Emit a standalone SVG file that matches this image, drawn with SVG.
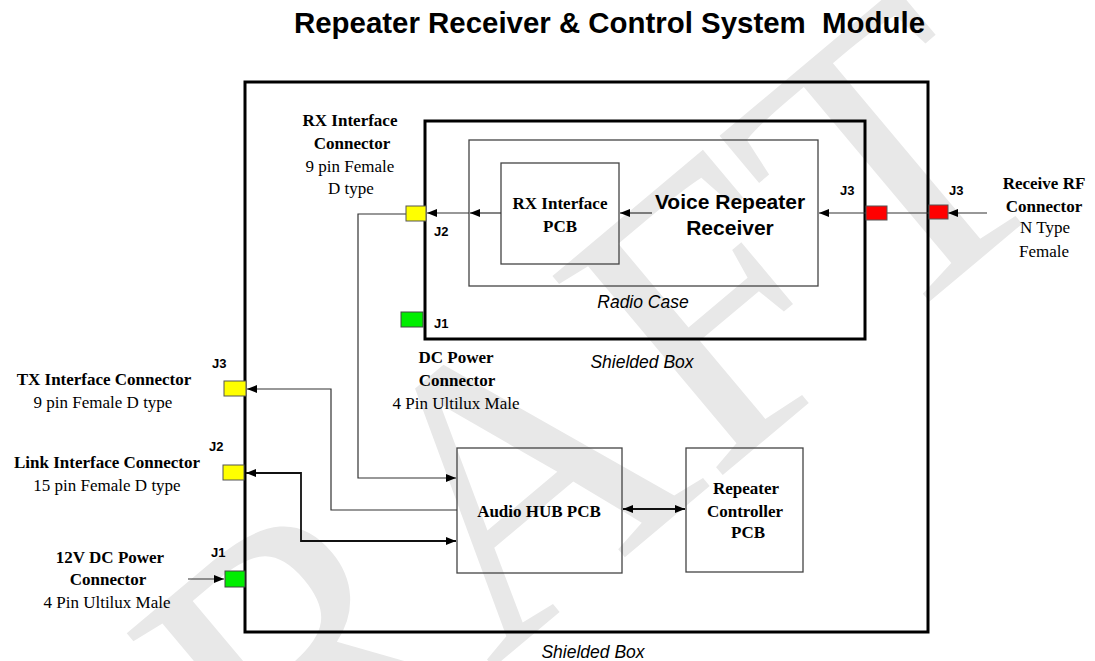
<svg xmlns="http://www.w3.org/2000/svg" width="1095" height="661" viewBox="0 0 1095 661">
<defs>
<marker id="ah" viewBox="0 0 10 8" refX="10" refY="4" markerWidth="10" markerHeight="8" markerUnits="userSpaceOnUse" orient="auto-start-reverse">
<path d="M0,0 L10,4 L0,8 z" fill="#000"/>
</marker>
<style>
.box{fill:none;stroke:#000;stroke-width:3}
.thin{fill:none;stroke:#444;stroke-width:1.3}
.cn{fill:none;stroke:#333;stroke-width:1.2}
.cnb{fill:none;stroke:#111;stroke-width:1.8}
.y{fill:#ffff00;stroke:#555;stroke-width:1}
.g{fill:#00ee00;stroke:#444;stroke-width:1}
.r{fill:#ff0000;stroke:#555;stroke-width:1}
.sb{font-family:"Liberation Serif",serif;font-weight:bold;font-size:17px;fill:#000;text-anchor:middle}
.sr{font-family:"Liberation Serif",serif;font-size:17px;fill:#000;text-anchor:middle}
.j{font-family:"Liberation Sans",Arial,sans-serif;font-weight:bold;font-size:13px;fill:#000}
.it{font-family:"Liberation Sans",Arial,sans-serif;font-style:italic;font-size:17.5px;fill:#000;text-anchor:middle}
.vb{font-family:"Liberation Sans",Arial,sans-serif;font-weight:bold;font-size:21px;fill:#000;text-anchor:middle}
.wm{font-family:"Liberation Serif",serif;font-size:400px;fill:#e8e8e8}
</style>
</defs>
<rect width="1095" height="661" fill="#fff"/>
<text class="wm" x="65" y="1027" transform="rotate(-40 65 1027)">DRAFT</text>
<text x="294" y="33" font-family="Liberation Sans, Arial, sans-serif" font-weight="bold" font-size="29" textLength="631" lengthAdjust="spacingAndGlyphs" xml:space="preserve">Repeater Receiver &amp; Control System  Module</text>

<g id="shielded-box">
<rect class="box" x="245" y="82" width="683" height="550"/>
<text class="it" x="593" y="658">Shielded Box</text>
<text class="it" x="642" y="368">Shielded Box</text>
</g>
<g id="radio-case">
<rect class="box" x="425" y="121" width="440" height="218"/>
<text class="it" x="643" y="308">Radio Case</text>
</g>
<g id="voice-repeater-receiver">
<rect class="thin" x="469" y="140" width="349" height="146"/>
<text class="vb" x="730" y="209">Voice Repeater</text>
<text class="vb" x="730" y="235">Receiver</text>
</g>
<g id="rx-interface-pcb">
<rect class="thin" x="501" y="163" width="118" height="101"/>
<text class="sb" x="560" y="209">RX Interface</text>
<text class="sb" x="560" y="232">PCB</text>
</g>
<g id="audio-hub-pcb">
<rect class="thin" x="457" y="448" width="165" height="125"/>
<text class="sb" x="539" y="517">Audio HUB PCB</text>
</g>
<g id="repeater-controller-pcb">
<rect class="thin" x="686" y="448" width="117" height="124"/>
<text class="sb" x="746" y="494">Repeater</text>
<text class="sb" x="745" y="517">Controller</text>
<text class="sb" x="748" y="538">PCB</text>
</g>

<g id="connectors">
<line class="cn" x1="987" y1="213" x2="948" y2="213" marker-end="url(#ah)"/>
<line class="cn" x1="929" y1="213" x2="887" y2="213"/>
<line class="cn" x1="866" y1="213" x2="819" y2="213" marker-end="url(#ah)"/>
<line class="cn" x1="652" y1="213" x2="620" y2="213" marker-end="url(#ah)"/>
<line class="cn" x1="501" y1="213" x2="470" y2="213" marker-end="url(#ah)"/>
<line class="cn" x1="469" y1="213" x2="427" y2="213" marker-end="url(#ah)"/>
<path class="cn" d="M406,214 H358 V478 H456" marker-end="url(#ah)"/>
<path class="cn" d="M457,510 H331 V389 H247" marker-end="url(#ah)"/>
<path class="cnb" d="M246,473 H301 V541 H456" marker-start="url(#ah)" marker-end="url(#ah)"/>
<line class="cnb" x1="623" y1="509" x2="685" y2="509" marker-start="url(#ah)" marker-end="url(#ah)"/>
<line class="cn" x1="188" y1="579" x2="224" y2="579" marker-end="url(#ah)"/>
</g>

<g id="rx-interface-connector">
<rect class="y" x="406" y="206" width="20" height="15"/>
<text class="j" x="434" y="236">J2</text>
<text class="sb" x="350" y="126">RX Interface</text>
<text class="sb" x="352" y="149">Connector</text>
<text class="sr" x="350" y="172">9 pin Female</text>
<text class="sr" x="351" y="194">D type</text>
</g>
<g id="dc-power-connector">
<rect class="g" x="401" y="312" width="22" height="15"/>
<text class="j" x="434" y="328">J1</text>
<text class="sb" x="456" y="363">DC Power</text>
<text class="sb" x="457" y="386">Connector</text>
<text class="sr" x="456" y="409">4 Pin Ultilux Male</text>
</g>
<g id="radio-rf-connector">
<rect class="r" x="866" y="206" width="21" height="14"/>
<text class="j" x="840" y="195">J3</text>
</g>
<g id="receive-rf-connector">
<rect class="r" x="929" y="205" width="19" height="14"/>
<text class="j" x="949" y="195">J3</text>
<text class="sb" x="1044" y="189">Receive RF</text>
<text class="sb" x="1044" y="212">Connector</text>
<text class="sr" x="1045" y="233">N Type</text>
<text class="sr" x="1044" y="257">Female</text>
</g>
<g id="tx-interface-connector">
<rect class="y" x="224" y="381" width="22" height="15"/>
<text class="j" x="212" y="368">J3</text>
<text class="sb" x="104" y="385">TX Interface Connector</text>
<text class="sr" x="103" y="408">9 pin Female D type</text>
</g>
<g id="link-interface-connector">
<rect class="y" x="223" y="465" width="21" height="15"/>
<text class="j" x="209" y="451">J2</text>
<text class="sb" x="107" y="468">Link Interface Connector</text>
<text class="sr" x="107" y="491">15 pin Female D type</text>
</g>
<g id="power-12v-connector">
<rect class="g" x="225" y="571" width="20" height="16"/>
<text class="j" x="211" y="557">J1</text>
<text class="sb" x="110" y="563">12V DC Power</text>
<text class="sb" x="108" y="585">Connector</text>
<text class="sr" x="107" y="608">4 Pin Ultilux Male</text>
</g>
</svg>
